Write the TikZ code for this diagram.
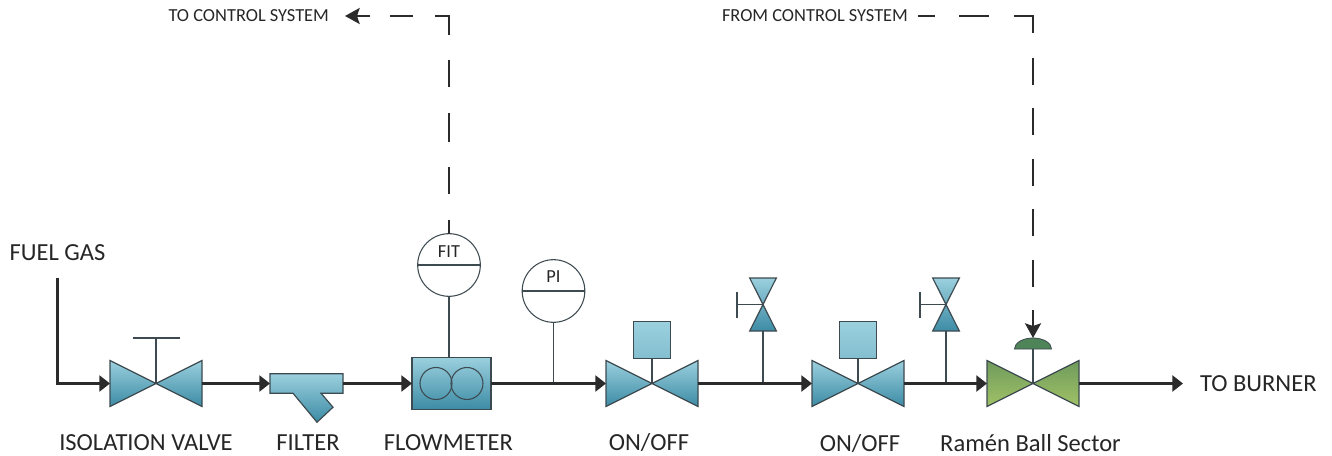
\documentclass[tikz,border=0pt]{standalone}
\usepackage{fontspec}
\setmainfont{Carlito}
\usetikzlibrary{positioning,arrows.meta}
\definecolor{bluetop}{HTML}{9BD0DE}
\definecolor{bluebot}{HTML}{3C8BA5}
\definecolor{greentop}{HTML}{6F9A5C}
\definecolor{greenbot}{HTML}{A0C266}
\definecolor{domegreen}{HTML}{4F8458}
\definecolor{edge}{HTML}{3D4A50}
\definecolor{pipecol}{HTML}{2B2B2B}
\begin{document}
\begin{tikzpicture}[x=0.75pt, y=-0.75pt, outer sep=0pt, font=\fontsize{18.4}{22}\selectfont, text=black!85]
    \tikzstyle{valve} = [inner sep=0pt, minimum width=69pt, minimum height=34.5pt]
    \tikzstyle{handvalve} = [inner sep=0pt, minimum width=20pt, minimum height=39.75pt]
    \tikzstyle{blue} = [draw=edge, line width=0.9pt, top color=bluetop, bottom color=bluebot]
    \tikzstyle{green} = [draw=edge, line width=0.9pt, top color=greentop, bottom color=greenbot]
    \tikzstyle{actuator} = [draw=edge, line width=0.9pt, inner sep=0pt, minimum size=27.5pt, top color=bluetop, bottom color=bluetop!75!bluebot]
    \tikzstyle{instr} = [circle, draw=edge, line width=0.8pt, inner sep=0pt, minimum size=47pt]
    \tikzstyle{tag} = [font=\fontsize{13.8}{16}\selectfont, inner sep=0pt]
    \tikzstyle{pipe} = [draw=pipecol, line width=1.8pt, -{Triangle[length=8pt, width=12pt]}]
    \tikzstyle{tap} = [draw=edge, line width=0.9pt]
    \tikzstyle{signal} = [draw=pipecol, line width=1.7pt, -{Stealth[length=11pt, width=12pt, inset=2pt]}]
    \useasboundingbox (0,0) rectangle (1332,456);

    \node[valve] (iso) at (156,383.5) {};
    \node[inner sep=0pt, minimum width=54.75pt, minimum height=14.6pt, right=51pt of iso] (flt) {};
    \node[draw=edge, line width=0.9pt, inner sep=0pt, minimum width=59.25pt, minimum height=39pt, top color=bluetop, bottom color=bluebot, right=51.75pt of flt] (flow) {};
    \node[valve, right=86.25pt of flow] (ona) {};
    \node[valve, right=85.5pt of ona] (onb) {};
    \node[valve, right=62.25pt of onb] (sector) {};
    \node[anchor=west, inner xsep=12.75pt, inner ysep=0pt] (burner) at (1183,383.5) {TO BURNER};
    \node[minimum height=37.5pt, inner ysep=0pt] (fuel) at (57.5,253) {FUEL GAS};

    \node[instr] (fit) at (449,265) {};
    \node[instr] (pi) at (553.5,291) {};
    \node[tag] (fittxt) at (449,252) {FIT};
    \node[tag] (pitxt) at (553.5,277) {PI};
    \node[actuator] (boxa) at (652,340) {};
    \node[actuator] (boxb) at (858,340) {};
    \node[handvalve] (hva) at (763,304.5) {};
    \node[handvalve] (hvb) at (946,304.5) {};
    \coordinate (isohand) at (156,338);
    \coordinate (hvahand) at (737,304.5);
    \coordinate (hvbhand) at (920,304.5);
    \coordinate (dome) at (1033,349);
    \coordinate (dometop) at (1033,338);

    \node[tag, anchor=east, inner xsep=12pt] (tocs) at (345,16) {TO CONTROL SYSTEM};
    \node[tag, anchor=east, inner xsep=7.5pt] (fromcs) at (918,16) {FROM CONTROL SYSTEM};

    \node[inner sep=0pt] (isolbl) at (146,443) {ISOLATION VALVE};
    \node[inner sep=0pt] (fltlbl) at (308,443) {FILTER};
    \node[inner sep=0pt] (flowlbl) at (448.5,443) {FLOWMETER};
    \node[inner sep=0pt] (onalbl) at (649,443) {ON/OFF};
    \node[inner sep=0pt] (onblbl) at (860,444) {ON/OFF};
    \node[inner sep=0pt] (sectorlbl) at (1030.5,443) {Ramén Ball Sector};

    \draw[tap] (iso.center) -- (isohand);
    \draw[tap] (isohand) ++(-23.5,0) -- ++(47,0);
    \draw[tap] (fit.south) -- (fit.south |- flow.north);
    \draw[tap] (pi.south) -- (pi.south |- flow.east);
    \draw[tap] (fit.west) -- (fit.east);
    \draw[tap] (pi.west) -- (pi.east);
    \draw[tap] (boxa.south) -- (boxa.south |- ona.center);
    \draw[tap] (boxb.south) -- (boxb.south |- onb.center);
    \draw[tap] (sector.center) -- (dome);

    \foreach \v in {iso,ona,onb}
        \shadedraw[blue] (\v.north west) -- (\v.south west) -- (\v.north east) -- (\v.south east) -- cycle;
    \shadedraw[green] (sector.north west) -- (sector.south west) -- (sector.north east) -- (sector.south east) -- cycle;
    \foreach \v in {hva,hvb} {
        \draw[tap] (\v.south) -- (\v.south |- ona.center);
        \shadedraw[blue] (\v.north west) -- (\v.north east) -- (\v.south west) -- (\v.south east) -- cycle;
        \draw[tap] (\v.center) -- (\v hand);
        \draw[tap] (\v hand) ++(0,-13) -- ++(0,26);
    }
    \shadedraw[blue] (flt.north west) -- (flt.north east) -- (flt.south east) -- ++(-22,0) -- ++(12,14) -- ++(-16,15) -- ++(-24,-29) -- (flt.south west) -- cycle;
    \draw[edge, line width=0.8pt] (flow.center) ++(-15.5,0) circle[radius=12pt];
    \draw[edge, line width=0.8pt] (flow.center) ++(15.5,0) circle[radius=12pt];
    \fill[domegreen, draw=edge, line width=0.6pt] (dome) ++(-13.9pt,0) arc[start angle=180, end angle=0, x radius=13.9pt, y radius=8.25pt] -- cycle;

    \draw[pipe] (fuel.south) |- (iso.west);
    \draw[pipe] (iso.east) -- (flt.west);
    \draw[pipe] (flt.east) -- (flow.west);
    \draw[pipe] (flow.east) -- (ona.west);
    \draw[pipe] (ona.east) -- (onb.west);
    \draw[pipe] (onb.east) -- (sector.west);
    \draw[pipe] (sector.east) -- (burner.west);

    \draw[signal, dash pattern=on 10.1pt off 19.5pt on 20.25pt off 18.75pt on 21.75pt off 19.5pt on 20.25pt off 18.75pt on 24.75pt off 16.5pt on 17.25pt off 15pt on 30pt] (fit.north) |- (tocs.east);
    \draw[signal, dash pattern=on 12.75pt off 18pt on 22.5pt off 18.75pt on 27pt off 18.75pt on 20.25pt off 17.6pt on 20.25pt off 17.6pt on 20.25pt off 17.6pt on 20.25pt off 17.6pt on 20.25pt off 17.6pt on 40pt] (fromcs.east) -| (dometop);
\end{tikzpicture}
\end{document}
